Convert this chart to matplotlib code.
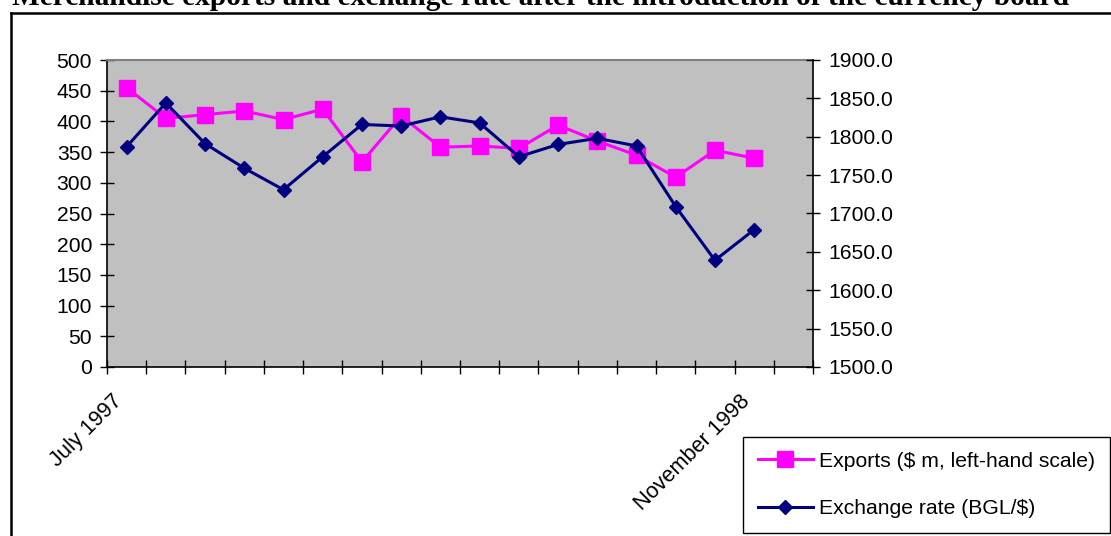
import numpy as np
import matplotlib.pyplot as plt
from matplotlib.lines import Line2D

# monthly data, July 1997 - December 1998 (last month empty)
months = ["July 1997", "August 1997", "September 1997", "October 1997",
          "November 1997", "December 1997", "January 1998", "February 1998",
          "March 1998", "April 1998", "May 1998", "June 1998", "July 1998",
          "August 1998", "September 1998", "October 1998", "November 1998",
          "December 1998"]
exports = [455, 405, 411, 417, 403, 420, 334, 409, 358, 360, 356, 394,
           368, 345, 309, 353, 340]
exchange_rate = [1787, 1844, 1791, 1759, 1731, 1774, 1816, 1814, 1826,
                 1818, 1774, 1790, 1798, 1788, 1709, 1639, 1679]
shown_labels = ["July 1997", "November 1998"]

title = "Merchandise exports and exchange rate after the introduction of the currency board"

plt.rcParams['font.family'] = ['Liberation Sans', 'DejaVu Sans']
plt.rcParams['font.size'] = 15.2

W, H = 1111, 536
fig = plt.figure(figsize=(W / 100, H / 100), dpi=100)
ax = fig.add_axes([107 / W, 1 - 367 / H, (813 - 107) / W, (367 - 60) / H])
ax2 = ax.twinx()

ax.set_facecolor('#c0c0c0')
x = np.arange(len(exports))
l1, = ax.plot(x, exports, color='#ff00ff', lw=2.2, marker='s', ms=11.5,
              mec='#ff00ff', mfc='#ff00ff', label='Exports ($ m, left-hand scale)')
l2, = ax2.plot(x, exchange_rate, color='#000080', lw=2.2, marker='D', ms=7.5,
               mec='#000080', mfc='#000080', label='Exchange rate (BGL/$)')

ax.set_xlim(-0.5, len(months) - 0.5)
ax.set_ylim(0, 500)
ax.set_yticks(np.arange(0, 501, 50))
ax2.set_ylim(1500, 1900)
ax2.set_yticks(np.arange(1500, 1901, 50))
ax2.set_yticklabels([f"{v:.1f}" for v in np.arange(1500, 1901, 50)])

ax.set_xticks(np.arange(len(months) + 1) - 0.5)
ax.set_xticklabels([])
ax.set_xticks([months.index(m) for m in shown_labels], minor=True)
ax.set_xticklabels(shown_labels, minor=True, rotation=45, ha='right',
                   va='bottom', rotation_mode='anchor', fontsize=15.6)
ax.tick_params(axis='x', which='minor', length=0, pad=28)

for a in (ax, ax2):
    a.tick_params(which='major', direction='inout', length=9.5, width=1,
                  colors='black', pad=6)

for s in ('left', 'bottom'):
    ax.spines[s].set_color('black')
    ax.spines[s].set_linewidth(1.2)
ax.spines['top'].set_color('#808080')
ax.spines['top'].set_linewidth(1.5)
ax.spines['right'].set_visible(False)
ax2.spines['right'].set_color('black')
ax2.spines['right'].set_linewidth(1.2)
for s in ('left', 'bottom', 'top'):
    ax2.spines[s].set_visible(False)

leg = fig.legend(handles=[l1, l2], loc='upper left',
                 bbox_to_anchor=(743 / W, 1 - 437 / H), frameon=True,
                 fancybox=False, edgecolor='black', framealpha=1,
                 handlelength=2.6, handletextpad=0.3, labelspacing=1.35,
                 borderpad=0.7, borderaxespad=0)
leg.get_frame().set_linewidth(1.0)

# outer chart frame (cut off at the right and bottom)
ytop = 1 - 12.5 / H
xl = 10.5 / W
fig.add_artist(Line2D([xl, xl], [0, ytop], color='black', lw=1.8,
                      transform=fig.transFigure))
fig.add_artist(Line2D([xl, 1], [ytop, ytop], color='black', lw=1.8,
                      transform=fig.transFigure))

fig.text(540 / W, 1 - 5 / H, title, ha='center', va='baseline',
         family='Liberation Serif', fontweight='bold', fontsize=21.2)

fig.savefig('out.png', dpi=100)
